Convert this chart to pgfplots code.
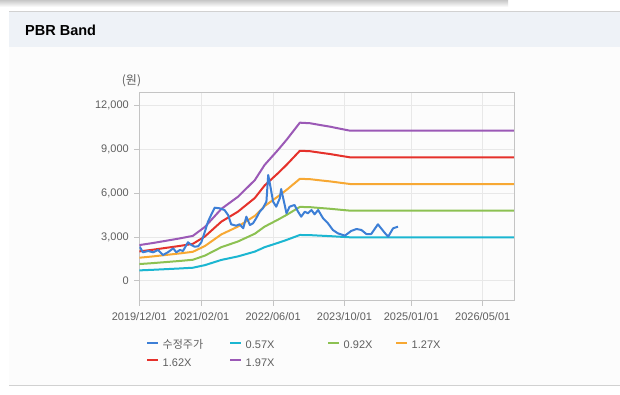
\documentclass[border=0pt]{standalone}
\usepackage{pgfplots}
\pgfplotsset{compat=1.18}
\usepackage{pgfplotstable}
\usepackage{fontspec}
\setmainfont{Liberation Sans}
\newfontfamily\kr{Noto Sans CJK KR}
\definecolor{cBlue}{HTML}{3D7FD6}
\definecolor{cCyan}{HTML}{1BB6D1}
\definecolor{cGreen}{HTML}{8CC152}
\definecolor{cOrange}{HTML}{F7A833}
\definecolor{cRed}{HTML}{E5312B}
\definecolor{cPurple}{HTML}{9B59B6}
\definecolor{headbg}{HTML}{EEF2F7}
\definecolor{panelbg}{HTML}{FCFCFC}
\definecolor{txt}{HTML}{5F5F5F}
\definecolor{gridc}{HTML}{E8E8E8}
\definecolor{axc}{HTML}{C4C4C4}

\pgfplotstableread{
m a057 a092 a127 a162 a197
0 707 1141 1575 2009 2443
3 747 1205 1664 2122 2581
6 792 1279 1765 2252 2738
9 838 1352 1867 2381 2896
12 889 1435 1981 2527 3073
14.7 1066 1720 2375 3029 3684
18.4 1425 2300 3175 4050 4925
22.1 1664 2686 3708 4730 5752
25.9 1995 3220 4445 5670 6895
28.1 2297 3708 5118 6529 7939
31.1 2594 4186 5779 7371 8964
33 2793 4508 6223 7938 9653
36 3135 5060 6985 8910 10835
38.3 3124 5042 6960 8878 10796
40.5 3089 4986 6883 8780 10677
42.8 3055 4931 6807 8683 10559
45 3015 4867 6718 8570 10421
47.3 2975 4802 6629 8456 10283
84 2975 4802 6629 8456 10283
}\bands

\pgfplotstableread{
m p
0.1 2331
0.8 1947
2.0 2037
3.1 1947
4.2 2105
5.3 1762
6.4 1947
7.6 2222
8.3 1947
9.1 2105
9.8 2037
10.9 2633
11.7 2448
12.4 2331
13.2 2359
13.9 2633
14.7 3360
15.4 4046
16.1 4505
16.9 5006
18.0 4965
19.1 4848
19.9 4505
20.6 3867
21.7 3771
22.5 3867
23.3 3593
24.0 4389
24.8 3819
25.5 3936
26.2 4279
27.0 4731
27.7 4965
28.5 5417
28.9 7248
29.2 6789
29.6 6103
30.0 5417
30.7 5074
31.5 5650
31.8 6288
32.6 5191
33.0 4622
33.7 5074
34.8 5191
35.6 4731
36.3 4389
37.1 4731
37.8 4622
38.6 4848
39.3 4553
40.1 4848
41.2 4279
42.3 3936
43.4 3477
44.5 3250
46.1 3086
47.5 3408
48.7 3545
49.8 3477
50.9 3202
52.0 3202
53.5 3867
55.0 3291
55.8 3017
56.9 3593
58.0 3703
}\price

\begin{document}
\begin{tikzpicture}
\useasboundingbox (0pt,0pt) rectangle (620pt,395pt);
\fill[white] (0pt,0pt) rectangle (620pt,395pt);
\shade[top color=black!22, bottom color=white] (0pt,388pt) rectangle (508pt,395pt);
\fill[panelbg] (9pt,9pt) rectangle (620pt,383pt);
\fill[headbg] (9pt,348pt) rectangle (620pt,383pt);
\draw[color=black!18, line width=1pt] (9pt,383pt) -- (620pt,383pt);
\draw[color=black!18, line width=1pt] (9pt,9pt) -- (620pt,9pt);
\node[anchor=base west, inner sep=0pt, font=\bfseries\fontsize{14.5}{17}\selectfont] at (25pt,359pt) {PBR Band};
\node[anchor=center, inner sep=0pt, text=txt, font=\fontsize{12}{14}\selectfont] at (131.5pt,314pt) {\kr (원)};

\begin{axis}[
  at={(139.3pt,94.3pt)}, anchor=south west,
  scale only axis, width=375pt, height=208.4pt,
  xmin=0, xmax=84.08, ymin=-1371, ymax=12918,
  scaled y ticks=false, scaled x ticks=false,
  xtick={0,14,30,46,61,77},
  xticklabels={2019/12/01,2021/02/01,2022/06/01,2023/10/01,2025/01/01,2026/05/01},
  ytick={0,3000,6000,9000,12000},
  yticklabels={0,{3,000},{6,000},{9,000},{12,000}},
  tick label style={text=txt, font=\fontsize{11}{13}\selectfont},
  xtick pos=bottom, ytick pos=left,
  tick align=outside, major tick length=5pt,
  tick style={color=axc, line width=0.8pt},
  xticklabel style={yshift=-3pt},
  yticklabel style={xshift=-2pt},
  grid=major, major grid style={color=gridc, line width=0.8pt},
  axis line style={color=axc, line width=1pt},
  legend columns=4,
  legend style={at={(0.0179,-0.191)}, anchor=north west, draw=none, fill=none,
    inner sep=0pt, font=\fontsize{11}{13}\selectfont,
    nodes={inner sep=0pt, text height=8pt, text depth=2pt, text=txt},
    /tikz/column sep=3.5pt, /tikz/row sep=7.7pt},
  legend cell align=left,
  legend image code/.code={\draw[#1, line width=2pt] (0pt,3pt) -- (11pt,3pt);},
  every axis plot/.append style={line width=2pt, line join=round},
]
\addlegendimage{cBlue}
\addlegendentry{\makebox[63pt][l]{\kr 수정주가}}
\addplot[cCyan, no marks] table[x=m, y=a057] {\bands};
\addlegendentry{\makebox[78pt][l]{0.57X}}
\addplot[cGreen, no marks] table[x=m, y=a092] {\bands};
\addlegendentry{\makebox[48pt][l]{0.92X}}
\addplot[cOrange, no marks] table[x=m, y=a127] {\bands};
\addlegendentry{\makebox[40pt][l]{1.27X}}
\addplot[cRed, no marks] table[x=m, y=a162] {\bands};
\addlegendentry{\makebox[63pt][l]{1.62X}}
\addplot[cPurple, no marks] table[x=m, y=a197] {\bands};
\addlegendentry{\makebox[78pt][l]{1.97X}}
\addplot[cBlue, no marks, forget plot] table[x=m, y=p] {\price};
\end{axis}
\end{tikzpicture}
\end{document}
